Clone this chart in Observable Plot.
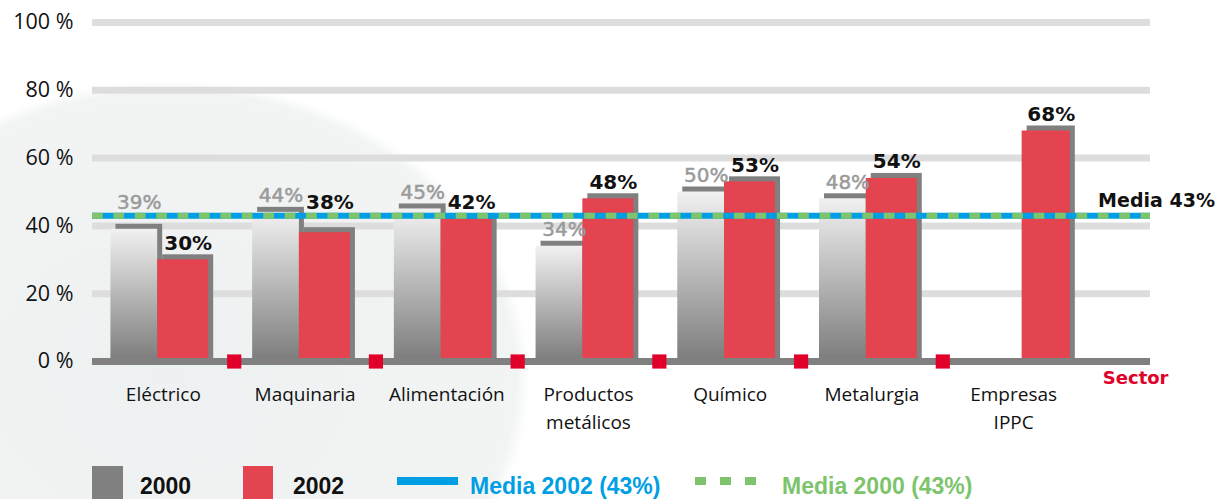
<!DOCTYPE html>
<html>
<head>
<meta charset="utf-8">
<script src="https://cdn.jsdelivr.net/npm/d3@7"></script>
<script src="https://cdn.jsdelivr.net/npm/@observablehq/plot@0.6"></script>
<style>
  html, body { margin: 0; padding: 0; width: 1232px; height: 499px; overflow: hidden;
    background: radial-gradient(ellipse 360px 300px at 170px 380px, #eef1f1 0%, #f2f4f4 96%, #ffffff 100%); }
  #chart svg { display: block; }
  #legend { display: block; }
</style>
</head>
<body>
<div id="chart"></div>
<svg id="legend" width="1232" height="39"></svg>
<script>
// ---- data ----
const sectors = ["Eléctrico", "Maquinaria", "Alimentación", "Productos\nmetálicos", "Químico", "Metalurgia", "Empresas\nIPPC"];
const values2000 = [39, 44, 45, 34, 50, 48, null];
const values2002 = [30, 38, 42, 48, 53, 54, 68];
const years = ["2000", "2002"];
const mediaValue2000 = 43;
const mediaValue2002 = 43;
const yTicks = [0, 20, 40, 60, 80, 100];
const gridTicks = [20, 40, 60, 80, 100];

// ---- colours ----
const RED = "#e3444f", CRIMSON = "#e0002a", DARK = "#808080", GRID = "#dddddd";
const BLUE = "#009fe3", GREEN = "#7dc46c";

// ---- derived rows ----
const idx = sectors.map((_, i) => i);
const grayRows = idx.filter(i => values2000[i] != null)
  .map(i => ({i, v: values2000[i], x1: i - 0.37, x2: i - 0.04}));
const redRows = idx.map(i => {
  const has = values2000[i] != null;
  return {i, v: values2002[i], x1: has ? i - 0.04 : i + 0.06, x2: has ? i + 0.32 : i + 0.40};
});
const media = mediaValue2002;
function labelY(v) {
  let y = v + 3;
  if (y < media + 1.8 && y + 4.5 > media - 1) y = media + 2;
  return y;
}
const gapRows = idx.slice(0, -1).map(i => ({x: i + 0.5, y: 0}));

const defs = () => {
  const d = d3.create("svg:defs");
  const g = d.append("linearGradient").attr("id", "g2000")
    .attr("x1", 0).attr("x2", 0).attr("y1", 0).attr("y2", 1);
  g.append("stop").attr("offset", "0%").attr("stop-color", "#f1f1f1");
  g.append("stop").attr("offset", "100%").attr("stop-color", "#7c7c7c");
  return d.node();
};

const plot = Plot.plot({
  width: 1232,
  height: 460,
  marginLeft: 92,
  marginRight: 82,
  marginTop: 22,
  marginBottom: 99,
  style: {background: "transparent", fontFamily: "'Open Sans', Lato, sans-serif", color: "#111"},
  x: {type: "linear", domain: [-0.5, 6.5], range: [92, 1084]},
  y: {domain: [0, 100]},
  marks: [
    defs,
    Plot.ruleY(gridTicks, {stroke: GRID, strokeWidth: 7}),
    // 2000 bars with offset shadow
    Plot.rectY(grayRows, {x1: "x1", x2: "x2", y1: 0, y2: "v", fill: DARK, dx: 5, dy: -5, insetBottom: -5}),
    Plot.rectY(grayRows, {x1: "x1", x2: "x2", y1: 0, y2: "v", fill: "url(#g2000)"}),
    // 2002 bars with offset shadow
    Plot.rectY(redRows, {x1: "x1", x2: "x2", y1: 0, y2: "v", fill: DARK, dx: 5, dy: -5, insetBottom: -5}),
    Plot.rectY(redRows, {x1: "x1", x2: "x2", y1: 0, y2: "v", fill: RED}),
    // baseline
    Plot.ruleY([0], {stroke: DARK, strokeWidth: 7}),
    Plot.dot(gapRows, {x: "x", y: "y", symbol: "square", r: 8, fill: CRIMSON}),
    // media lines
    Plot.ruleY([mediaValue2002], {stroke: BLUE, strokeWidth: 6}),
    Plot.ruleY([mediaValue2000], {stroke: GREEN, strokeWidth: 6, strokeDasharray: "10.7 10.7"}),
    // value labels
    Plot.text(grayRows, {x: d => (d.x1 + d.x2) / 2, y: d => labelY(d.v), text: d => d.v + "%",
      dx: 5, lineAnchor: "bottom", fill: "#9a9a9a", stroke: "#9a9a9a", strokeWidth: 0.5, fontSize: 20, fontFamily: "'DejaVu Sans', sans-serif"}),
    Plot.text(redRows, {x: d => (d.x1 + d.x2) / 2, y: d => labelY(d.v), text: d => d.v + "%",
      dx: 5, lineAnchor: "bottom", fill: "#111", fontSize: 20, fontWeight: "bold", fontFamily: "'DejaVu Sans', sans-serif"}),
    Plot.text([`Media ${media}%`], {y: [media], frameAnchor: "right", dx: 6, dy: -9, textAnchor: "middle",
      lineAnchor: "bottom", fill: "#111", fontSize: 19, fontWeight: "bold", fontFamily: "'DejaVu Sans', sans-serif"}),
    Plot.text(["Sector"], {frameAnchor: "bottom-right", dx: 18, dy: 22, textAnchor: "end",
      fill: CRIMSON, fontSize: 18, fontWeight: "bold", fontFamily: "'DejaVu Sans', sans-serif"}),
    // axes
    Plot.axisY(yTicks, {tickSize: 0, tickPadding: 19, tickFormat: d => d + " %", fontSize: 21.5, label: null}),
    Plot.axisX(idx, {tickSize: 0, tickPadding: 20, tickFormat: i => sectors[i], fontSize: 19, lineHeight: 1.45, label: null})
  ]
});
document.getElementById("chart").appendChild(plot);

// ---- legend ----
const lg = d3.select("#legend");
const fontL = "'Liberation Sans', Arial, sans-serif";
lg.append("rect").attr("x", 92).attr("y", 6).attr("width", 31).attr("height", 40).attr("fill", DARK);
lg.append("text").attr("x", 140).attr("y", 34).text(years[0]).attr("font-family", fontL).attr("font-weight", "bold").attr("font-size", 23).attr("fill", "#111");
lg.append("rect").attr("x", 243).attr("y", 6).attr("width", 30).attr("height", 40).attr("fill", RED);
lg.append("text").attr("x", 293).attr("y", 34).text(years[1]).attr("font-family", fontL).attr("font-weight", "bold").attr("font-size", 23).attr("fill", "#111");
lg.append("line").attr("x1", 397).attr("x2", 458).attr("y1", 21).attr("y2", 21).attr("stroke", BLUE).attr("stroke-width", 8);
lg.append("text").attr("x", 470).attr("y", 34).text(`Media ${years[1]} (${mediaValue2002}%)`).attr("font-family", fontL).attr("font-weight", "bold").attr("font-size", 23).attr("fill", BLUE);
lg.append("line").attr("x1", 695).attr("x2", 757).attr("y1", 21).attr("y2", 21).attr("stroke", GREEN).attr("stroke-width", 8).attr("stroke-dasharray", "11 14");
lg.append("text").attr("x", 782).attr("y", 34).text(`Media ${years[0]} (${mediaValue2000}%)`).attr("font-family", fontL).attr("font-weight", "bold").attr("font-size", 23).attr("fill", GREEN);
</script>
</body>
</html>
